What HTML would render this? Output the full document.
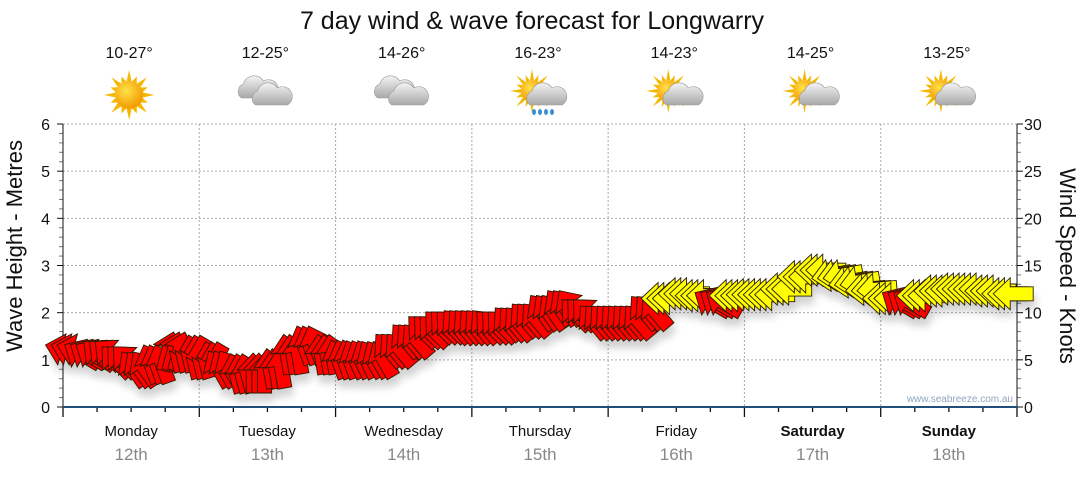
<!DOCTYPE html>
<html><head><meta charset="utf-8"><style>
body{margin:0;background:#fff;font-family:"Liberation Sans","DejaVu Sans",sans-serif}
</style></head><body>
<svg id="c" width="1080" height="475" xmlns="http://www.w3.org/2000/svg" style="font-family:'Liberation Sans',sans-serif">
<defs>
<filter id="sh" x="-50%" y="-50%" width="200%" height="200%"><feGaussianBlur in="SourceAlpha" stdDeviation="4"/><feOffset dx="2" dy="8"/><feComponentTransfer><feFuncA type="linear" slope="0.18"/></feComponentTransfer><feMerge><feMergeNode/><feMergeNode in="SourceGraphic"/></feMerge></filter>
<radialGradient id="sun" cx="40%" cy="35%" r="65%"><stop offset="0" stop-color="#ffe14a"/><stop offset="1" stop-color="#f29a00"/></radialGradient>
<linearGradient id="cl" x1="0" y1="0" x2="0" y2="1"><stop offset="0" stop-color="#f4f4f4"/><stop offset="1" stop-color="#a8a8a8"/></linearGradient>
</defs>
<text x="532" y="29" text-anchor="middle" font-size="25" fill="#111">7 day wind &amp; wave forecast for Longwarry</text>
<g id="axes"></g>
<g id="icons"></g>
<g id="arrows" filter="url(#sh)"></g>
<text x="1013" y="402" text-anchor="end" font-size="10" fill="#8fa6bf">www.seabreeze.com.au</text>
<text transform="translate(22,246) rotate(-90)" text-anchor="middle" font-size="22" fill="#111">Wave Height - Metres</text>
<text transform="translate(1060,266) rotate(90)" text-anchor="middle" font-size="22" fill="#111">Wind Speed - Knots</text>
</svg>
<script>
const days=["Monday","Tuesday","Wednesday","Thursday","Friday","Saturday","Sunday"];
const dates=["12th","13th","14th","15th","16th","17th","18th"];
const temps=["10-27°","12-25°","14-26°","16-23°","14-23°","14-25°","13-25°"];
const weather=["sun","cloud","cloud","rain","suncloud","suncloud","suncloud"];
const waveTicks=[0,1,2,3,4,5,6];
const windTicks=[0,5,10,15,20,25,30];
// 3-hourly wind speed (knots) and arrow heading (deg, 0=up, -90=left)
const windSpeed=[6.0,5.5,5.5,4.8,4.0,4.5,5.8,5.5, 4.8,4.0,3.5,3.5,4.0,5.5,6.5,5.5, 5.0,5.0,5.0,6.0,7.0,8.0,8.5,8.5, 8.5,8.5,8.8,9.2,10.0,10.5,9.8,9.0, 9.0,9.0,10.0,11.5,12.0,11.8,11.0,11.8, 11.9,11.9,12.5,13.8,14.5,14.0,13.3,12.5, 11.5,11.0,11.8,12.3,12.5,12.5,12.3,12.0];
const windDir=[-75,-60,-50,-45,-35,-20,15,-150, -150,-30,-15,0,-10,-10,-20,-10, -20,-25,-30,-40,-40,-45,-45,-40, -40,-45,-40,-40,-35,-35,-45,-40, -40,-40,-40,-90,-90,-90,-60,-90, -90,-90,-90,-90,-90,-100,-100,-95, -90,-60,-90,-90,-90,-90,-90,-90];
const NS="http://www.w3.org/2000/svg";
const X0=63,X1=1017,Y0=407,Y1=124;
const dayW=(X1-X0)/7;
const xAt=h=>X0+h*(X1-X0)/168;
const yWave=m=>Y0-m*(Y0-Y1)/6;
const yWind=k=>Y0-k*(Y0-Y1)/30;
function mk(t,a,p){const e=document.createElementNS(NS,t);for(const k in a)e.setAttribute(k,a[k]);(p||document.getElementById('axes')).appendChild(e);return e;}
const ax=document.getElementById('axes');
for(const m of waveTicks){if(m>0){const g=mk('line',{x1:X0,x2:X1,y1:yWave(m),y2:yWave(m),stroke:'#aaa','stroke-dasharray':'2,2'});

}
const t=mk('text',{x:50,y:yWave(m)+6,'text-anchor':'end','font-size':16,fill:'#111'});t.textContent=m;

}
for(const k of windTicks){const t=mk('text',{x:1024,y:yWind(k)+6,'font-size':16,fill:'#111'});t.textContent=k;

}
for(let i=0;i<=30;i++){const y=yWind(i);const L=i%5==0?6:4;
mk('line',{x1:X0-L,x2:X0,y1:y,y2:y,stroke:i%5?'#777':'#111'});
mk('line',{x1:X1,x2:X1+L,y1:y,y2:y,stroke:i%5?'#777':'#111'});}
mk('line',{x1:X0,x2:X0,y1:Y1,y2:Y0,stroke:'#111'});
mk('line',{x1:X1,x2:X1,y1:Y1,y2:Y0,stroke:'#111'});
for(let d=0;d<7;d++){
 if(d>0){const g=mk('line',{x1:X0+d*dayW,x2:X0+d*dayW,y1:Y1,y2:Y0,stroke:'#aaa','stroke-dasharray':'2,2'});
 
 }
 const cx=X0+(d+0.5)*dayW;
 const a=mk('text',{x:cx,y:436,'text-anchor':'middle','font-size':15,fill:'#111','font-weight':d>=5?'bold':'normal'});a.textContent=days[d];
 
 
 const b=mk('text',{x:cx,y:460,'text-anchor':'middle','font-size':17,fill:'#888'});b.textContent=dates[d];
 
 
 const t=mk('text',{x:cx-2,y:58,'text-anchor':'middle','font-size':16,fill:'#111'});t.textContent=temps[d];
 
 
}
for(let h=0;h<=168;h+=6){const x=xAt(h);mk('line',{x1:x,x2:x,y1:Y0,y2:Y0+(h%24==0?10:5),stroke:'#111','stroke-width':1.3});}
mk('line',{x1:X0,x2:X1,y1:Y0,y2:Y0,stroke:'#1f4e79','stroke-width':2});
const ic=document.getElementById('icons');
function sun(cx,cy,r){const g=mk('g',{},ic);for(let i=0;i<16;i++){const a=i*Math.PI/8;const L=i%2?r+6:r+11;
mk('polygon',{points:`${cx+Math.cos(a-0.18)*r},${cy+Math.sin(a-0.18)*r} ${cx+Math.cos(a)*L},${cy+Math.sin(a)*L} ${cx+Math.cos(a+0.18)*r},${cy+Math.sin(a+0.18)*r}`,fill:'#f5b800'},g);}
mk('circle',{cx,cy,r,fill:'url(#sun)'},g);return g;}
function cloud(cx,cy,s){const g=mk('g',{fill:'url(#cl)',stroke:'#999','stroke-width':0.6},ic);
mk('path',{d:`M${cx-14*s},${cy+8*s} a8 8 0 0 1 2,-14 a11 11 0 0 1 20,-3 a9 9 0 0 1 10,17 z`},g);return g;}
for(let d=0;d<7;d++){const cx=X0+(d+0.5)*dayW-2,cy=95;let g;
 if(weather[d]=='sun'){g=sun(cx,cy,14);}
 else if(weather[d]=='cloud'){g=mk('g',{},ic);const a=cloud(cx-10,cy-5,1);const b=cloud(cx+4,cy+2,1);g.appendChild(a);g.appendChild(b);}
 else {g=mk('g',{},ic);g.appendChild(sun(cx-6,cy-4,11));g.appendChild(cloud(cx+6,cy+2,1));
  if(weather[d]=='rain'){for(const dx of [-4,2,8,14]){mk('ellipse',{cx:cx+dx,cy:cy+17,rx:2,ry:3,fill:'#3b8fd8'},g);}}}
 
 
}
const ar=document.getElementById('arrows');
for(let i=0;i<windSpeed.length;i++){
 const y=yWind(windSpeed[i]);
 const col=windSpeed[i]>=11.3?'#ffff00':'#ff0000';
 for(let s=0;s<3;s++){
  const x=xAt(i*3+s+0.5);
  const p=mk('polygon',{points:'0,-21 16,-4 7,-4 7,19 -7,19 -7,-4 -16,-4',fill:col,stroke:'#2a1a00','stroke-width':0.9,transform:`translate(${x.toFixed(1)},${y.toFixed(1)}) rotate(${windDir[i]})`},ar);
  
  
 }
}
</script>
</body></html>
